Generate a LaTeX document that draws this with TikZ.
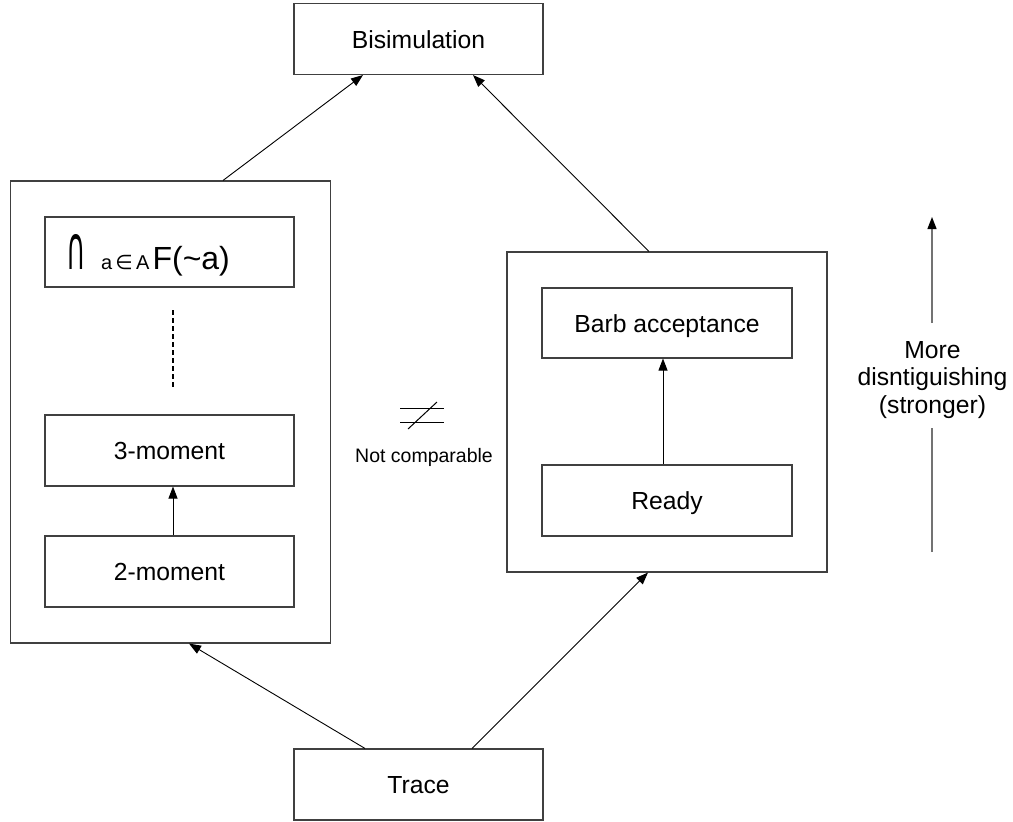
\documentclass[tikz,border=0pt]{standalone}
\usepackage{fontspec}
\usepackage{graphicx}
\setmainfont{Liberation Sans}
\newfontfamily\symfont{DejaVu Sans}
\usetikzlibrary{arrows.meta}
\begin{document}
\begin{tikzpicture}[x=1pt,y=-1pt,
  frame/.style={draw=black!75, line width=1.1pt, inner sep=0pt},
  box/.style={frame, minimum width=249pt, minimum height=71pt,
    font=\fontsize{24.7}{29}\selectfont, text height=18pt, text depth=0pt},
  arr/.style={-{Triangle[length=12pt,width=9pt]}, line width=0.9pt},
  dashline/.style={line width=2.4pt, dash pattern=on 5pt off 3pt},
  scaleline/.style={draw=black!55, line width=1.3pt},
  label/.style={font=\fontsize{24.7}{27.5}\selectfont},
  small/.style={font=\fontsize{19.5}{23}\selectfont},
]
\useasboundingbox (0,0) rectangle (1013,822);

% the two groups of equivalences
\node[frame, minimum width=320pt, minimum height=462pt] (lgrp) at (170.5,412) {};
\node[frame, minimum width=320pt, minimum height=320pt] (rgrp) at (667,412) {};

% top and bottom of the hierarchy
\node[box] (bisim) at (418.5,39) {Bisimulation};
\node[box] (trace) at (418.5,784.5) {Trace};

% moment equivalences
\node[box, text width=207pt, inner xsep=21pt, align=left, text height=35pt,
      minimum height=70pt] (fa) at (169.5,252)
  {{\symfont\resizebox{19.5pt}{35pt}{∩}}\hspace{15.5pt}{\fontsize{20}{20}\selectfont a\,{\symfont ∈}\,A}\hspace{3pt}{\fontsize{32}{32}\selectfont F(\textasciitilde a)}};
\node[box] (m3) at (169.5,450.5) {3-moment};
\node[box] (m2) at (169.5,571.5) {2-moment};

% ready / barb acceptance
\node[box, minimum width=250pt, minimum height=70pt] (barb) at (667,323) {Barb acceptance};
\node[box, minimum width=250pt] (ready) at (667,500.5) {Ready};

% omitted intermediate levels
\coordinate (dtop) at (173,310);
\coordinate (dbot) at (173,389);
\draw[dashline] (dtop) -- (dbot);

% implications
\draw[arr] (lgrp.north -| 223,0) -- (bisim.south -| 363,0);
\draw[arr] (rgrp.north -| 649,0) -- (bisim.south -| 473,0);
\draw[arr] (trace.north -| 365,0) -- (lgrp.south -| 189,0);
\draw[arr] (trace.north -| 472,0) -- (rgrp.south -| 648,0);
\draw[arr] (m2.north -| 173,0) -- (m3.south -| 173,0);
\draw[arr] (ready.north -| 663,0) -- (barb.south -| 663,0);

% not-equal sign between the groups
\draw[line width=1pt] (400,408) -- (444,408);
\draw[line width=1pt] (400,422) -- (444,422);
\draw[line width=1pt] (408,429) -- (437,402);
\node[small, anchor=base, inner sep=0pt] (nc) at (424,462) {Not comparable};

% strength scale
\node[label, align=center, anchor=north, inner sep=0pt] (more) at (932.5,341)
  {More\\disntiguishing\\(stronger)};
\coordinate (s0) at (932,552);
\coordinate (s1) at (932,428);
\coordinate (s2) at (932,323);
\coordinate (s3) at (932,217);
\draw[scaleline] (s0) -- (s1);
\draw[scaleline, -{Triangle[length=12pt,width=9pt,color=black]}] (s2) -- (s3);
\end{tikzpicture}
\end{document}
